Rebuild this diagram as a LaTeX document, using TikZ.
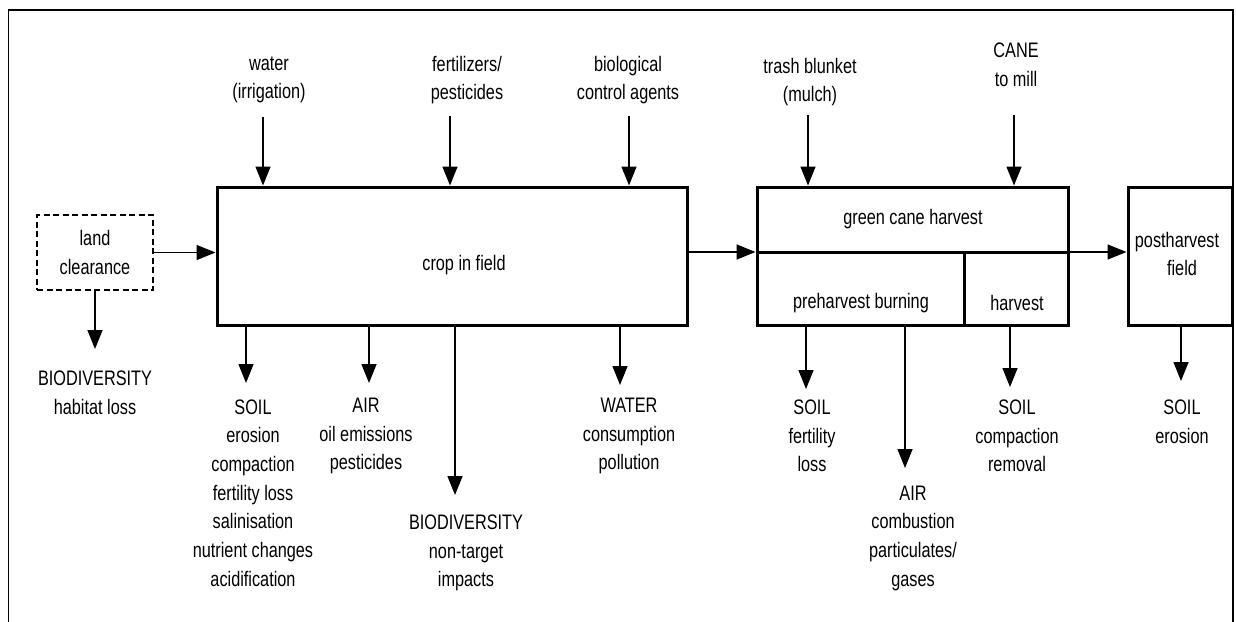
\documentclass[tikz,border=0pt]{standalone}
\usepackage{fontspec}
\setmainfont{Liberation Sans}[FakeStretch=0.775]
\usetikzlibrary{arrows.meta}
\begin{document}
\begin{tikzpicture}[x=1pt,y=-1pt,
  every node/.style={font=\fontsize{21}{28.7}\selectfont, inner sep=0pt, align=center},
  sbox/.style={draw, line width=3pt},
  dbox/.style={draw, line width=2pt, dash pattern=on 6pt off 3.5pt},
  arr/.style={line width=1.5pt, -{Triangle[width=15pt,length=19pt]}},
  divline/.style={line width=3pt}]
\useasboundingbox (0,0) rectangle (1236,621);
\draw[line width=1.5pt] (8.5,640) -- (8.5,10) -- (1233,10) -- (1233,640);

% boxes
\node[dbox, minimum width=116pt, minimum height=75pt] (land) at (95,252.5) {land\\clearance};
\node[sbox, minimum width=470pt, minimum height=138pt] (crop) at (452,256) {};
\node (croptxt) at (464,265) {crop in field};
\node[sbox, minimum width=311pt, minimum height=138pt] (harv) at (912.5,256) {};
\node[sbox, minimum width=104pt, minimum height=138pt] (post) at (1180,256) {};
\node (posttxt) at (1177,254) {postharvest\\\hspace*{10pt}field};
\coordinate (mid) at (0,252);
\coordinate (div) at (964,0);
\draw[divline] (harv.west |- mid) -- (harv.east |- mid);
\draw[divline] (div |- mid) -- (div |- harv.south);
\node (gch) at (913,219) {green cane harvest};
\node (phb) at (861,303) {preharvest burning};
\node (hv) at (1017,303) {harvest};

% horizontal flow
\draw[arr] (land.east) -- (crop.west |- land.east);
\draw[arr] (crop.east |- mid) -- (harv.west |- mid);
\draw[arr] (harv.east |- mid) -- (post.west |- mid);

% inputs
\node (twater) at (269,80) {water\\(irrigation)};
\node (tfert) at (467,80) {fertilizers/\\pesticides};
\node (tbio) at (628,80) {biological\\control agents};
\node (ttrash) at (810,82) {trash blunket\\(mulch)};
\node (tcane) at (1016,65) {CANE\\to mill};
\coordinate (iwater) at (263,117);
\coordinate (ifert) at (450,116);
\coordinate (ibio) at (629,116);
\coordinate (itrash) at (808,115);
\coordinate (icane) at (1014,115);
\draw[arr] (iwater) -- (iwater |- crop.north);
\draw[arr] (ifert) -- (ifert |- crop.north);
\draw[arr] (ibio) -- (ibio |- crop.north);
\draw[arr] (itrash) -- (itrash |- harv.north);
\draw[arr] (icane) -- (icane |- harv.north);

% outputs
\coordinate (obio1) at (95,349);
\coordinate (osoil1) at (246,383);
\coordinate (oair1) at (369,383);
\coordinate (obio2) at (455,495);
\coordinate (owater) at (620,385);
\coordinate (osoil2) at (806,389);
\coordinate (oair2) at (905,468);
\coordinate (osoil3) at (1010,387);
\coordinate (osoil4) at (1181,381);
\draw[arr] (obio1 |- land.south) -- (obio1);
\draw[arr] (osoil1 |- crop.south) -- (osoil1);
\draw[arr] (oair1 |- crop.south) -- (oair1);
\draw[arr] (obio2 |- crop.south) -- (obio2);
\draw[arr] (owater |- crop.south) -- (owater);
\draw[arr] (osoil2 |- harv.south) -- (osoil2);
\draw[arr] (oair2 |- harv.south) -- (oair2);
\draw[arr] (osoil3 |- harv.south) -- (osoil3);
\draw[arr] (osoil4 |- post.south) -- (osoil4);

\node (tbio1) at (95,393) {BIODIVERSITY\\habitat loss};
\node (tsoil1) at (253,493) {SOIL\\erosion\\compaction\\fertility loss\\salinisation\\nutrient changes\\acidification};
\node (tair1) at (366,436) {AIR\\oil emissions\\pesticides};
\node (tbio2) at (466,553) {BIODIVERSITY\\non-target\\impacts};
\node (twater2) at (629,436) {WATER\\consumption\\pollution};
\node (tsoil2) at (812,436) {SOIL\\fertility\\loss};
\node (tair2) at (913,538) {AIR\\combustion\\particulates/\\gases};
\node (tsoil3) at (1017,436) {SOIL\\compaction\\removal};
\node (tsoil4) at (1182,422) {SOIL\\erosion};
\end{tikzpicture}
\end{document}
